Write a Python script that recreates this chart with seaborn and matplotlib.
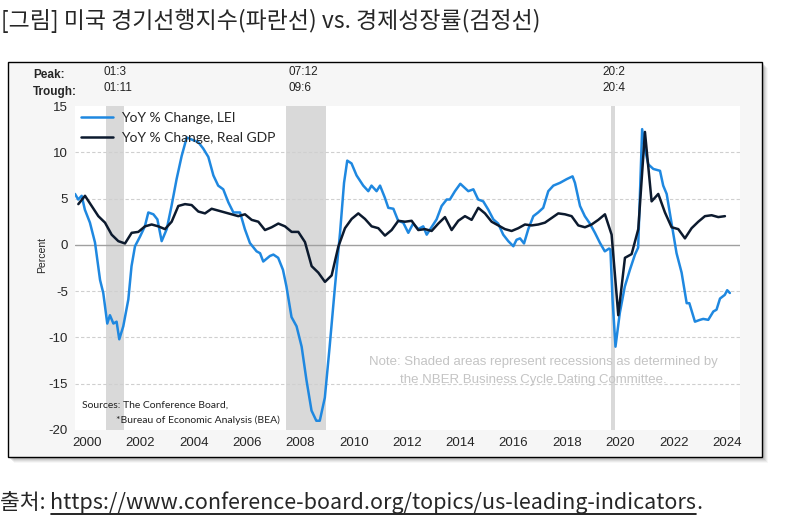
import matplotlib
matplotlib.use("Agg")
import matplotlib.pyplot as plt
import matplotlib.patches as mpatches
from matplotlib.ticker import FixedLocator, NullFormatter
import seaborn as sns

# LEI, YoY % change (decimal year, value)
lei_t = [2000.00, 2000.12, 2000.25, 2000.37, 2000.56, 2000.75, 2000.94, 2001.06, 2001.21, 2001.31,
         2001.44, 2001.56, 2001.66, 2001.81, 2002.00, 2002.12, 2002.25, 2002.44, 2002.62, 2002.75,
         2002.94, 2003.09, 2003.25, 2003.44, 2003.62, 2003.81, 2004.00, 2004.19, 2004.44, 2004.62,
         2004.81, 2005.00, 2005.19, 2005.37, 2005.56, 2005.75, 2005.94, 2006.19, 2006.37, 2006.56,
         2006.81, 2006.94, 2007.06, 2007.31, 2007.44, 2007.62, 2007.80, 2007.93, 2008.12, 2008.31,
         2008.50, 2008.68, 2008.87, 2009.05, 2009.18, 2009.37, 2009.55, 2009.75, 2009.94, 2010.09,
         2010.21, 2010.37, 2010.56, 2010.81, 2011.00, 2011.12, 2011.31, 2011.44, 2011.62, 2011.75,
         2011.94, 2012.12, 2012.31, 2012.50, 2012.68, 2012.87, 2013.06, 2013.19, 2013.37, 2013.56,
         2013.75, 2013.94, 2014.06, 2014.25, 2014.45, 2014.75, 2014.94, 2015.12, 2015.31, 2015.50,
         2015.69, 2015.87, 2016.06, 2016.25, 2016.44, 2016.56, 2016.69, 2016.84, 2017.00, 2017.19,
         2017.37, 2017.56, 2017.75, 2017.94, 2018.19, 2018.44, 2018.66, 2018.75, 2018.94, 2019.12,
         2019.31, 2019.50, 2019.69, 2019.87, 2020.03, 2020.08, 2020.16, 2020.27, 2020.43, 2020.62,
         2020.81, 2021.00, 2021.12, 2021.27, 2021.37, 2021.50, 2021.69, 2021.94, 2022.06, 2022.19,
         2022.37, 2022.56, 2022.75, 2022.94, 2023.04, 2023.25, 2023.44, 2023.56, 2023.75, 2023.94,
         2024.06, 2024.19, 2024.37, 2024.46, 2024.56]
lei_val = [5.5, 4.9, 5.3, 3.8, 2.4, 0.25, -3.8, -5.2, -8.5, -7.6,
           -8.5, -8.3, -10.2, -8.8, -5.9, -2.3, -0.15, 0.9, 2.0, 3.5,
           3.3, 2.75, 0.4, 1.7, 4.2, 7.1, 9.6, 11.6, 11.3, 11.1,
           10.4, 9.5, 7.5, 6.4, 6.0, 4.6, 3.5, 3.5, 1.7, 0.2,
           -0.7, -0.9, -1.8, -1.2, -1.05, -1.4, -2.7, -4.5, -7.8, -8.8,
           -11.0, -14.6, -17.9, -19.0, -19.0, -16.5, -11.0, -4.5, 1.3, 6.7,
           9.1, 8.8, 7.5, 6.4, 5.8, 6.4, 5.8, 6.4, 5.1, 4.0,
           3.9, 2.6, 2.4, 1.3, 2.3, 1.7, 2.0, 1.1, 1.9, 2.75,
           4.2, 4.9, 4.9, 5.8, 6.6, 5.8, 6.0, 4.9, 4.7, 3.8,
           2.75, 2.3, 1.1, 0.4, -0.15, 0.55, 0.7, 0.15, 1.7, 3.1,
           3.5, 4.0, 5.8, 6.4, 6.7, 7.1, 7.4, 6.7, 4.2, 3.1,
           2.3, 1.3, 0.2, -0.7, -0.4, -0.5, -5.9, -11.0, -7.4, -4.5,
           -2.7, -1.05, -0.3, 12.5, 10.4, 8.7, 8.2, 8.0, 6.4, 5.5,
           2.4, -0.9, -3.0, -6.3, -6.3, -8.3, -8.1, -8.0, -8.1, -7.2,
           -7.0, -5.8, -5.4, -4.9, -5.2]

# Real GDP, YoY % change, quarterly from 2000Q1
gdp_start = 2000
gdp_val = [4.4, 5.3, 4.2, 3.1, 2.4, 1.1, 0.4, 0.15, 1.3, 1.4, 2.0, 2.2,
           2.0, 1.7, 2.5, 4.2, 4.4, 4.3, 3.6, 3.4, 3.9, 3.7, 3.5, 3.3,
           3.1, 3.3, 2.7, 2.5, 1.6, 1.9, 2.3, 2.0, 1.4, 1.4, 0.3, -2.3,
           -3.0, -4.0, -3.3, -0.2, 1.8, 2.8, 3.4, 2.8, 2.0, 1.8, 1.0, 1.6,
           2.6, 2.5, 2.6, 1.6, 1.7, 1.5, 2.3, 3.0, 1.6, 2.6, 3.1, 2.7,
           4.0, 3.4, 2.5, 2.1, 1.7, 1.5, 1.8, 2.2, 2.1, 2.2, 2.4, 2.9,
           3.4, 3.3, 3.1, 2.1, 1.9, 2.2, 2.7, 3.3, 1.1, -7.6, -1.4, -1.0,
           1.7, 12.2, 4.7, 5.5, 3.5, 1.9, 1.7, 0.7, 1.8, 2.5, 3.1, 3.2,
           3.0, 3.1]
gdp_t = [gdp_start + 0.125 + 0.25 * i for i in range(len(gdp_val))]

# NBER recessions (peak month, trough month)
rec_peak = ["01:3", "07:12", "20:2"]
rec_trough = ["01:11", "09:6", "20:4"]


def to_year(lbl):
    yy, mm = lbl.split(":")
    return 2000 + int(yy) + (int(mm) - 1) / 12


W, H = 807, 530
fx = lambda px: px / W
fy = lambda py: 1 - py / H

sns.set_style("white")
plt.rcParams["font.family"] = ["Liberation Sans", "DejaVu Sans"]
plt.rcParams["axes.unicode_minus"] = False

fig = plt.figure(figsize=(W / 100, H / 100), dpi=100)

# framed box with shadow
for off, a in [(6, 0.06), (5, 0.10), (4, 0.14), (3, 0.18), (2, 0.22)]:
    fig.patches.append(mpatches.Rectangle((fx(8 + off), fy(457 + off)), fx(754), 395 / H,
                                          transform=fig.transFigure, facecolor="#808080",
                                          alpha=a, edgecolor="none", zorder=0))
fig.patches.append(mpatches.Rectangle((fx(8), fy(457)), fx(754), 395 / H,
                                      transform=fig.transFigure, facecolor="#f6f6f6",
                                      edgecolor="black", lw=1.0, zorder=1))

ax = fig.add_axes([fx(75), fy(430), fx(740 - 75), (430 - 106) / H])
ax.set_facecolor("white")
ax.set_zorder(2)

for p, t in zip(rec_peak, rec_trough):
    ax.axvspan(to_year(p), to_year(t), color="#d9d9d9", lw=0, zorder=0)

for v in [-15, -10, -5, 5, 10]:
    ax.axhline(v, color="#cfcfcf", lw=0.8, ls=(0, (3, 2)), zorder=1)
ax.axhline(0, color="#a0a0a0", lw=1.0, zorder=1)

sns.lineplot(x=lei_t, y=lei_val, ax=ax, color="#1f88e0", lw=1.8,
             label="YoY % Change, LEI", zorder=3)
sns.lineplot(x=gdp_t, y=gdp_val, ax=ax, color="#0c1a2e", lw=1.8,
             label="YoY % Change, Real GDP", zorder=4)

ax.set_xlim(2000, 2024.94)
ax.set_ylim(-20, 15)
ax.set_yticks(range(-20, 16, 5))
ax.tick_params(axis="y", direction="out", length=3, color="#999999", labelsize=9.5, pad=2)

ax.xaxis.set_major_locator(FixedLocator(list(range(2001, 2025))))
ax.xaxis.set_major_formatter(NullFormatter())
years = list(range(2000, 2025, 2))
ax.xaxis.set_minor_locator(FixedLocator([y + 0.45 for y in years]))
ax.set_xticklabels([str(y) for y in years], minor=True)
ax.tick_params(axis="x", which="major", direction="in", length=4, color="#999999")
ax.tick_params(axis="x", which="minor", length=0, labelsize=9.5, pad=5)
ax.set_xlabel("")
ax.set_ylabel("")
for s in ax.spines.values():
    s.set_visible(False)

ax.legend(loc="upper left", frameon=False, handlelength=2.3, handletextpad=0.6,
          labelspacing=0.6, borderaxespad=0.3, borderpad=0.1, prop={"family": "Lato", "size": 10})

fig.text(fx(42), fy(255), "Percent", rotation=90, fontsize=7.5, va="center", ha="center")

# peak / trough labels
fig.text(fx(33), fy(75), "Peak:", fontsize=8.5, fontweight="bold", va="center")
fig.text(fx(33), fy(92), "Trough:", fontsize=8.5, fontweight="bold", va="center")
tr = matplotlib.transforms.blended_transform_factory(ax.transData, fig.transFigure)
for p, t, dx in zip(rec_peak, rec_trough, [-0.1, 0.1, -0.3]):
    xpos = to_year(p) + dx
    fig.text(xpos, fy(72), p, transform=tr, fontsize=8.5, va="center", ha="left", color="#222222")
    fig.text(xpos, fy(88), t, transform=tr, fontsize=8.5, va="center", ha="left", color="#222222")

fig.text(fx(82), fy(405), "Sources: The Conference Board,", fontsize=7.5, family="Lato",
         va="center", color="#222222")
fig.text(fx(116), fy(420), "*Bureau of Economic Analysis (BEA)", fontsize=7.5, family="Lato",
         va="center", color="#222222")

fig.text(fx(543), fy(362), "Note: Shaded areas represent recessions as determined by",
         fontsize=9.5, color="#c4c4c4", ha="center", va="center")
fig.text(fx(533), fy(380), "the NBER Business Cycle Dating Committee.",
         fontsize=9.5, color="#c4c4c4", ha="center", va="center")

kr = ["Noto Sans CJK KR", "DejaVu Sans"]
fig.text(fx(1), fy(21), "[그림] 미국 경기선행지수(파란선) vs. 경제성장률(검정선)",
         fontsize=16.5, family=kr, va="center", ha="left")

t1 = fig.text(fx(0), fy(503), "출처: ", fontsize=15.5, family=kr, va="center", ha="left")
fig.canvas.draw()
bb = t1.get_window_extent()
t2 = fig.text(bb.x1 / W, fy(503), "https://www.conference-board.org/topics/us-leading-indicators",
              fontsize=15.5, family=kr, va="center", ha="left")
fig.canvas.draw()
bb2 = t2.get_window_extent()
fig.text(bb2.x1 / W, fy(503), ".", fontsize=15.5, family=kr, va="center", ha="left")
fig.add_artist(plt.Line2D([bb2.x0 / W, bb2.x1 / W], [fy(514), fy(514)], color="black", lw=1.2))

fig.savefig("out.png", dpi=100)
